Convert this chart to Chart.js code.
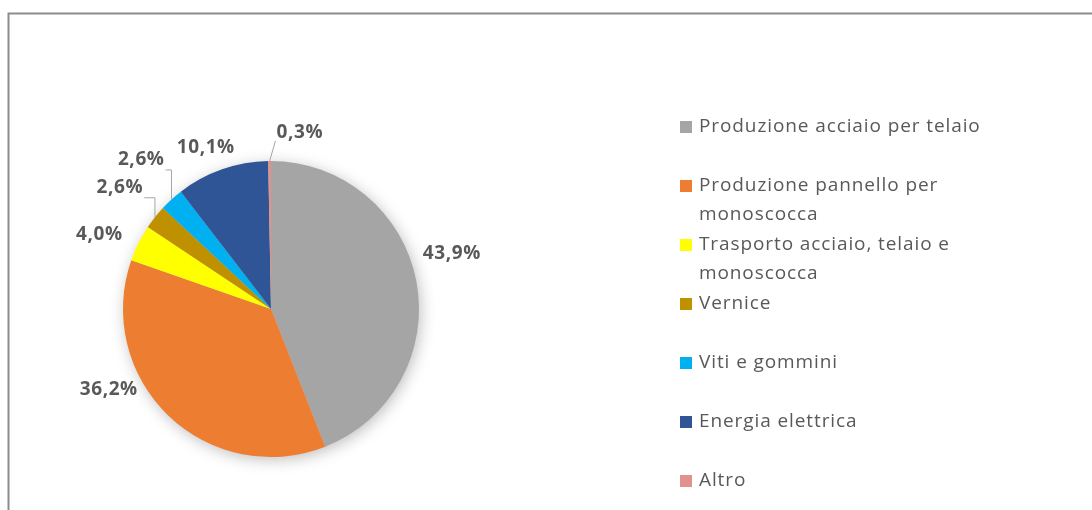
<!DOCTYPE html>
<html>
<head>
<meta charset="utf-8">
<script src="https://cdn.jsdelivr.net/npm/chart.js@4/dist/chart.umd.min.js"></script>
<style>
  html, body { margin: 0; padding: 0; background: #ffffff; }
  #wrap { position: relative; width: 1092px; height: 510px; }
</style>
</head>
<body>
<div id="wrap"><canvas id="c" width="1092" height="510"></canvas></div>
<script>
// ---- data ----
const categories = [
  'Produzione acciaio per telaio',
  'Produzione pannello per monoscocca',
  'Trasporto acciaio, telaio e monoscocca',
  'Vernice',
  'Viti e gommini',
  'Energia elettrica',
  'Altro'
];
const values = [43.9, 36.2, 4.0, 2.6, 2.6, 10.1, 0.3];
const valueLabels = ['43,9%', '36,2%', '4,0%', '2,6%', '2,6%', '10,1%', '0,3%'];
const colors = ['#a5a5a5', '#ed7d31', '#ffff00', '#bf9000', '#00b0f0', '#2f5597', '#e2928c'];

// ---- styling / label layout (not data) ----
const labelAngleShift = [-6.2, 19.8, -3.1, 0.5, 1.3, -2.7, 9.8];   // degrees
const labelDistance   = [189, 181, 187, 194, 198, 174, 179];         // px from centre
const labelLeader     = [false, false, false, 'elbow', 'elbow', false, 'straight'];
const legendWrap = 310;
const textColor = '#595959';

function wrapText(ctx, text, maxW) {
  const words = text.split(' ');
  const lines = [];
  let cur = '';
  for (const w of words) {
    const t = cur ? cur + ' ' + w : w;
    if (ctx.measureText(t).width > maxW && cur) { lines.push(cur); cur = w; }
    else cur = t;
  }
  if (cur) lines.push(cur);
  return lines;
}

const framePlugin = {
  id: 'frame',
  beforeDraw(chart) {
    const ctx = chart.ctx;
    ctx.save();
    ctx.strokeStyle = '#8c8c8c';
    ctx.lineWidth = 2;
    ctx.beginPath();
    ctx.moveTo(1100, 13.5);
    ctx.lineTo(8.5, 13.5);
    ctx.lineTo(8.5, 520);
    ctx.stroke();
    ctx.restore();
  }
};

const shadowPlugin = {
  id: 'pieShadow',
  beforeDatasetsDraw(chart) {
    const arc = chart.getDatasetMeta(0).data[0];
    if (!arc) return;
    const ctx = chart.ctx;
    ctx.save();
    ctx.shadowColor = 'rgba(0,0,0,0.28)';
    ctx.shadowBlur = 16;
    ctx.shadowOffsetX = 2;
    ctx.shadowOffsetY = 3;
    ctx.fillStyle = '#cccccc';
    ctx.beginPath();
    ctx.arc(arc.x, arc.y, arc.outerRadius - 1, 0, Math.PI * 2);
    ctx.fill();
    ctx.restore();
  }
};

const labelPlugin = {
  id: 'sliceLabels',
  afterDatasetsDraw(chart) {
    const ctx = chart.ctx;
    const meta = chart.getDatasetMeta(0);
    ctx.save();
    ctx.font = 'bold 19px "Open Sans"';
    ctx.letterSpacing = '0.6px';
    ctx.textAlign = 'center';
    ctx.textBaseline = 'middle';
    meta.data.forEach((arc, i) => {
      const mid = (arc.startAngle + arc.endAngle) / 2;
      const a = mid + labelAngleShift[i] * Math.PI / 180;
      const lx = arc.x + Math.cos(a) * labelDistance[i];
      const ly = arc.y + Math.sin(a) * labelDistance[i];
      const txt = valueLabels[i];
      const w = ctx.measureText(txt).width;
      const h = 15;
      if (labelLeader[i]) {
        const ex = arc.x + Math.cos(mid) * arc.outerRadius;
        const ey = arc.y + Math.sin(mid) * arc.outerRadius;
        ctx.strokeStyle = '#a6a6a6';
        ctx.lineWidth = 1;
        ctx.beginPath();
        ctx.moveTo(ex, ey);
        if (labelLeader[i] === 'elbow') {
          const by = ly + h / 2 + 3;
          ctx.lineTo(ex, by);
          ctx.lineTo(lx + w / 2 + 1, by);
        } else {
          ctx.lineTo(lx - w / 2 - 1, ly + h / 2 + 1);
        }
        ctx.stroke();
      }
      ctx.fillStyle = textColor;
      ctx.fillText(txt, lx, ly);
    });
    ctx.restore();
  }
};

const legendPlugin = {
  id: 'sideLegend',
  afterDraw(chart) {
    const ctx = chart.ctx;
    const x0 = 680, tx = 699, y0 = 127, step = 59, lineH = 29, box = 12;
    ctx.save();
    ctx.font = '19px "Open Sans"';
    ctx.letterSpacing = '0.9px';
    ctx.textBaseline = 'middle';
    ctx.textAlign = 'left';
    chart.data.labels.forEach((lab, i) => {
      const y = y0 + i * step;
      ctx.fillStyle = chart.data.datasets[0].backgroundColor[i];
      ctx.fillRect(x0, y - box / 2, box, box);
      ctx.fillStyle = textColor;
      const lines = wrapText(ctx, lab, legendWrap);
      lines.forEach((ln, k) => ctx.fillText(ln, tx, y + k * lineH));
    });
    ctx.restore();
  }
};

new Chart(document.getElementById('c'), {
  type: 'pie',
  data: {
    labels: categories,
    datasets: [{
      data: values,
      backgroundColor: colors,
      borderWidth: 0
    }]
  },
  options: {
    responsive: false,
    animation: false,
    layout: { padding: { left: 123, right: 673, top: 161, bottom: 53 } },
    plugins: {
      legend: { display: false },
      tooltip: { enabled: false }
    }
  },
  plugins: [framePlugin, shadowPlugin, labelPlugin, legendPlugin]
});
</script>
</body>
</html>
